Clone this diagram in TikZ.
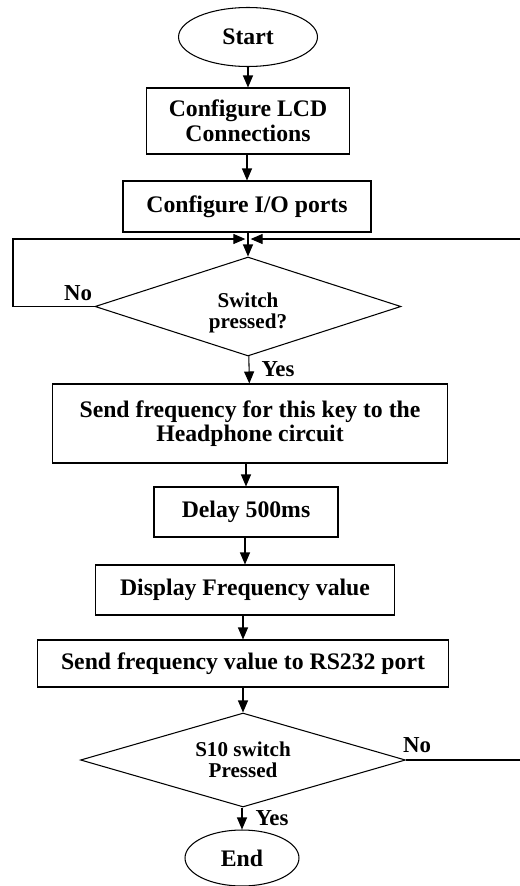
\documentclass[tikz,border=0pt]{standalone}
\usepackage{fontspec}
\setmainfont{Liberation Serif}
\usetikzlibrary{shapes.geometric,arrows.meta}

\tikzset{
  block/.style={draw, rectangle, line width=0.6pt, align=center, inner sep=0pt,
    font=\fontsize{13.5}{14}\selectfont\bfseries},
  term/.style={draw, ellipse, line width=0.6pt, inner sep=0pt,
    font=\fontsize{13.5}{14}\selectfont\bfseries},
  decision/.style={draw, diamond, shape aspect=3, line width=0.6pt, align=center, inner sep=0pt,
    font=\fontsize{12}{12}\selectfont\bfseries},
  lbl/.style={inner sep=0pt, font=\fontsize{13}{13}\selectfont\bfseries},
  arrow/.style={-{Triangle[length=2.4mm,width=2mm]}, line width=0.6pt}
}

\begin{document}
\begin{tikzpicture}[x=0.02cm, y=-0.02cm]
    \useasboundingbox (0,0) rectangle (520,886);

    \node[term, minimum width=2.78cm, minimum height=1.18cm] (start) at (248, 37) {Start};
    \node[block, minimum width=4.06cm, minimum height=1.32cm] (lcd) at (248, 121) {Configure LCD\\Connections};
    \node[block, minimum width=4.96cm, minimum height=1.02cm] (io) at (247, 206.5) {Configure I/O ports};
    \node[decision, minimum width=6.12cm, minimum height=1.98cm] (sw) at (248, 306.5) {};
    \node[align=center, font=\fontsize{12}{12}\selectfont\bfseries] (swtext) at (248, 313) {Switch\\pressed?};
    \node[block, minimum width=7.9cm, minimum height=1.58cm] (send) at (250, 423.5) {Send frequency for this key to the\\Headphone circuit};
    \node[block, minimum width=3.68cm, minimum height=1cm] (delay) at (246, 512) {Delay 500ms};
    \node[block, minimum width=5.98cm, minimum height=1cm] (disp) at (245, 590) {Display Frequency value};
    \node[block, minimum width=8.24cm, minimum height=0.94cm] (rs) at (243, 663.5) {Send frequency value to RS232 port};
    \node[decision, minimum width=6.5cm, minimum height=1.88cm] (s10) at (243, 760) {S10 switch\\Pressed};
    \node[term, minimum width=2.28cm, minimum height=1.12cm] (end) at (242, 858) {End};

    % labels
    \node[lbl] (no1) at (78, 293) {No};
    \node[lbl] (yes1) at (278, 369) {Yes};
    \node[lbl] (no2) at (417, 745) {No};
    \node[lbl] (yes2) at (272, 818) {Yes};

    % loop points
    \coordinate (merge) at (248, 239);
    \coordinate (lft) at (13, 239);
    \coordinate (rgt) at (524, 239);

    \draw[arrow] (lcd |- start.south) -- (lcd);
    \draw[arrow] (io |- lcd.south) -- (io);
    \draw[arrow] (merge |- io.south) -- (sw);
    \draw[arrow, shorten >=1.5pt] (sw.west) -| (lft) -- (merge);
    \draw[arrow, shorten >=1.5pt] (s10.east) -- (rgt |- s10.east) -- (rgt) -- (merge);
    \draw[arrow] (sw) -- (send);
    \draw[arrow] (delay |- send.south) -- (delay);
    \draw[arrow] (disp |- delay.south) -- (disp);
    \draw[arrow] (rs |- disp.south) -- (rs);
    \draw[arrow] (s10 |- rs.south) -- (s10);
    \draw[arrow] (end |- s10.south) -- (end);
\end{tikzpicture}
\end{document}
